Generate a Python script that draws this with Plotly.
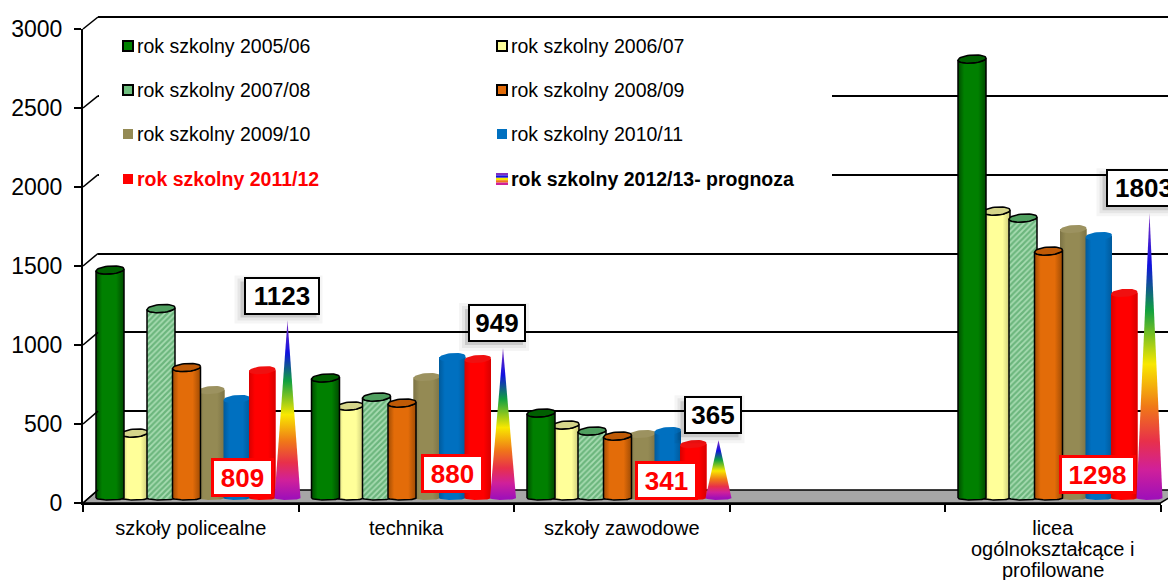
import numpy as np
import plotly.graph_objects as go

W, H = 1168, 580
categories = ["szkoły policealne", "technika", "szkoły zawodowe", " ", "licea"]
licea_extra_lines = ["ogólnokształcące i", "profilowane"]
y_ticks = [0, 500, 1000, 1500, 2000, 2500, 3000]

rok_0506 = [1443, 760, 538, None, 2778]
rok_0607 = [411, 582, 462, None, 1816]
rok_0708 = [1199, 639, 424, None, 1772]
rok_0809 = [826, 601, 392, None, 1563]
rok_0910 = [683, 766, 405, None, 1702]
rok_1011 = [627, 892, 424, None, 1658]
rok_1112 = [809, 880, 341, None, 1298]
rok_1213 = [1123, 949, 365, None, 1803]

names = ["rok szkolny 2005/06", "rok szkolny 2006/07", "rok szkolny 2007/08", "rok szkolny 2008/09",
         "rok szkolny 2009/10", "rok szkolny 2010/11", "rok szkolny 2011/12", "rok szkolny 2012/13- prognoza"]

# pixel geometry
PX_CAT = 215.5
PX_VAL = 0.158
FX0, FX1 = 83, 1160.5      # front axis
FY0, FY1 = 503, 29
BX0 = 98                   # back wall
BY0, BY1 = 490, 17
MX0, MY0 = 190.5, 498      # centre of category 0 / value 0 for the marks
BACK_SCALE = (BY0 - BY1) / 3000
BACK_TOP_PX = 5


def fx(p): return p / W
def fy(p): return 1 - p / H
def ux(p): return p / PX_CAT
def uy(p): return p / PX_VAL


styles = [
    dict(vals=rok_0506, name=names[0], i=0, w=28, base="#008000", edge="#004a00", top="#005f00", line=True),
    dict(vals=rok_0607, name=names[1], i=1, w=26.5, base="#FFFF99", edge="#c8c878", top="#d5d58a", line=True),
    dict(vals=rok_0708, name=names[2], i=2, w=28, base="#8fd49a", edge="#5a9a66", top="#4f9f5f", line=True, hatch=True),
    dict(vals=rok_0809, name=names[3], i=3, w=28, base="#E36C09", edge="#a04c04", top="#bf5a06", line=True),
    dict(vals=rok_0910, name=names[4], i=4, w=26.5, base="#948A54", edge="#7d7446", top="#9c9260", line=False),
    dict(vals=rok_1011, name=names[5], i=5, w=26.5, base="#0070C0", edge="#005a9c", top="#0070C0", line=False),
    dict(vals=rok_1112, name=names[6], i=6, w=26.5, base="#FF0000", edge="#d80000", top="#f01010", line=False),
]
draw_order = [1, 4, 5, 6, 2, 0, 3]
LEFT0 = 96 - MX0
STEP = 25.5

fig = go.Figure()
# back wall carries the gridlines
fig.add_trace(go.Scatter(x=[None], y=[None], xaxis="x", yaxis="y", showlegend=False, hoverinfo="skip"))
# front axes
fig.add_trace(go.Scatter(x=categories, y=[None] * 5, xaxis="x2", yaxis="y2", showlegend=False, hoverinfo="skip"))

for k in draw_order:
    s = styles[k]
    fig.add_trace(go.Bar(x=list(range(5)), y=s["vals"], name=s["name"], xaxis="x3", yaxis="y3",
                         offset=ux(LEFT0 + STEP * s["i"]), width=ux(s["w"]), marker=dict(color=s["base"], line=dict(width=0)),
                         showlegend=False))

t = np.linspace(0, np.pi, 25)
for k in draw_order:
    s = styles[k]
    for c, v in enumerate(s["vals"]):
        if v is None:
            continue
        x0 = c + ux(LEFT0 + STEP * s["i"])
        a = ux(s["w"]) / 2
        xc = x0 + a
        x_bot = xc - a * np.cos(t)
        y_bot = -uy(2) * np.sin(t)
        x_front = xc + a * np.cos(t)
        y_front = v - uy(4) * np.sin(t) + uy(1) * np.cos(t)
        px = np.concatenate([x_bot, x_front, x_bot[:1]])
        py = np.concatenate([y_bot, y_front, y_bot[:1]])
        line = dict(color="#000000", width=1.5) if s["line"] else dict(width=0)
        kw = dict(x=px, y=py, mode="lines", fill="toself", line=line, xaxis="x3", yaxis="y3",
                  showlegend=False, hoverinfo="skip")
        if s.get("hatch"):
            kw["fillpattern"] = dict(shape="/", fgcolor="#2f8f48", bgcolor="#a8dcb2", size=4, solidity=0.55)
        else:
            kw["fillgradient"] = dict(type="horizontal", start=x0, stop=x0 + 2 * a,
                                      colorscale=[[0, s["edge"]], [0.22, s["base"]], [0.72, s["base"]], [1, s["edge"]]])
        fig.add_trace(go.Scatter(**kw))
        tt = np.linspace(0, 2 * np.pi, 41)
        fig.add_trace(go.Scatter(x=xc + a * np.cos(tt), y=v + uy(4) * np.sin(tt) + uy(1) * np.cos(tt),
                                 mode="lines", fill="toself", fillcolor=s["top"], line=line,
                                 xaxis="x3", yaxis="y3", showlegend=False, hoverinfo="skip"))

# forecast cones
CONE_SCALE = [[0, "#a010b8"], [0.1, "#d0209a"], [0.2, "#e8304a"], [0.32, "#f07818"], [0.47, "#f8e800"],
              [0.66, "#10a040"], [0.82, "#1010e0"], [1, "#8030c0"]]
for c, v in enumerate(rok_1213):
    if v is None:
        continue
    xc = c + ux(LEFT0 + STEP * 7 + 13)
    a = ux(13)
    x_bot = xc - a * np.cos(t)
    y_bot = -uy(2) * np.sin(t)
    fig.add_trace(go.Scatter(x=np.concatenate([x_bot, [xc], x_bot[:1]]), y=np.concatenate([y_bot, [v], y_bot[:1]]),
                             mode="lines", fill="toself", line=dict(width=0), name=names[7],
                             fillgradient=dict(type="vertical", start=0, stop=v, colorscale=CONE_SCALE),
                             xaxis="x3", yaxis="y3", showlegend=False, hoverinfo="skip"))

shapes = []
# floor
shapes.append(dict(type="path", layer="below", xref="paper", yref="paper",
                   path=f"M{fx(FX0)},{fy(FY0)} L{fx(BX0)},{fy(BY0)} L{fx(W + 14)},{fy(BY0)} L{fx(FX1)},{fy(FY0)} Z",
                   fillcolor="#a6a6a6", line=dict(color="#000", width=1.5)))
# side wall diagonals
for v in y_ticks:
    yf = FY0 + (FY1 - FY0) * v / 3000
    yb = BY0 + (BY1 - BY0) * v / 3000
    shapes.append(dict(type="line", xref="paper", yref="paper", x0=fx(FX0), x1=fx(BX0), y0=fy(yf), y1=fy(yb),
                       line=dict(color="#000", width=1.6)))
# white panel behind the legend
shapes.append(dict(type="rect", layer="above", xref="paper", yref="paper", x0=fx(99), x1=fx(832), y0=fy(30), y1=fy(245),
                   fillcolor="#fff", line=dict(width=0)))

annotations = []
# legend
COLS = [122, 496]
ROWS = [46, 90, 134, 179]
legend_colors = ["#008000", "#FFFF99", "#6fbf7f", "#E36C09", "#948A54", "#0070C0", "#FF0000"]
for k, nm in enumerate(names):
    cx = COLS[k % 2]
    cy = ROWS[k // 2]
    if k < 7:
        lined = k < 4
        shapes.append(dict(type="rect", layer="above", xref="paper", yref="paper", x0=fx(cx + 1),
                           x1=fx(cx + 11), y0=fy(cy - 5), y1=fy(cy + 5), fillcolor=legend_colors[k],
                           line=dict(color="#000", width=2) if lined else dict(width=0)))
    else:
        bands = ["#8030c0", "#1010e0", "#f8e800", "#f07818", "#d0209a"]
        for b, col in enumerate(bands):
            shapes.append(dict(type="rect", layer="above", xref="paper", yref="paper", x0=fx(cx), x1=fx(cx + 12),
                               y0=fy(cy - 6 + b * 2.4), y1=fy(cy - 6 + (b + 1) * 2.4), fillcolor=col, line=dict(width=0)))
    bold = k >= 6
    color = "#FF0000" if k == 6 else "#000000"
    annotations.append(dict(xref="paper", yref="paper", x=fx(cx + 13), y=fy(cy), xanchor="left", yanchor="middle",
                            text=f"<b>{nm}</b>" if bold else nm, showarrow=False,
                            font=dict(size=19.5, color=color, family="Liberation Sans")))

# forecast value boxes
for c, v in enumerate(rok_1213):
    if v is None:
        continue
    xc = c + ux(LEFT0 + STEP * 7 + 13)
    w = 72 if v >= 1000 else 54
    for spread, alpha in [(0, 0.12), (3, 0.06), (6, 0.04)]:
        shapes.append(dict(type="rect", xref="x3", yref="y3", xsizemode="pixel", ysizemode="pixel",
                           xanchor=xc, yanchor=v, layer="above",
                           x0=-6 - w / 2 - 5 - spread, x1=-6 + w / 2 - 1 + spread,
                           y0=26 - 17 - 6 - spread, y1=26 + 17 - 4 + spread,
                           fillcolor=f"rgba(0,0,0,{alpha})", line=dict(width=0)))
    annotations.append(dict(xref="x3", yref="y3", x=xc, y=v, xshift=-6, yshift=25, text=f"<b>{v}</b>", showarrow=False,
                            width=w, height=34, bgcolor="#fff", bordercolor="#000", borderwidth=2, borderpad=0,
                            align="center", valign="middle",
                            font=dict(size=26, color="#000", family="Liberation Sans")))

# red value boxes
red_box_y = [477, 473, 480, None, 474]
red_box_dx = [-20, -25, -27, 0, -27]
for c, v in enumerate(rok_1112):
    if v is None:
        continue
    xc = c + ux(LEFT0 + STEP * 6 + 13)
    w = 71 if v >= 1000 else 57
    annotations.append(dict(xref="x3", yref="paper", x=xc, y=fy(red_box_y[c]), xshift=red_box_dx[c], yanchor="middle",
                            text=f"<b>{v}</b>", showarrow=False, width=w, height=33, bgcolor="#fff",
                            bordercolor="#FF0000", borderwidth=3, borderpad=0, align="center", valign="middle",
                            font=dict(size=26, color="#FF0000", family="Liberation Sans")))

# remaining lines of the last category label
for line_txt, ypx in zip(licea_extra_lines, [549, 570]):
    annotations.append(dict(xref="x2", yref="paper", x=categories[4], y=fy(ypx), yanchor="middle", showarrow=False,
                            text=line_txt, font=dict(size=20, color="#000", family="Liberation Sans")))

fig.update_layout(
    width=W, height=H, margin=dict(l=0, r=0, t=0, b=0, pad=0, autoexpand=False),
    paper_bgcolor="#fff", plot_bgcolor="rgba(0,0,0,0)", showlegend=False, barmode="overlay",
    font=dict(family="Liberation Sans", color="#000"),
    shapes=shapes, annotations=annotations,
    # back wall (range runs a little past 3000 so that its gridline is drawn)
    xaxis=dict(domain=[fx(BX0), 1], range=[0, 1], showgrid=False, showline=False, showticklabels=False, ticks="",
               zeroline=False, anchor="y"),
    yaxis=dict(domain=[fy(BY0), fy(BACK_TOP_PX)], range=[0, (BY0 - BACK_TOP_PX) / BACK_SCALE], tickvals=y_ticks,
               showgrid=True, gridcolor="#000", gridwidth=2, showline=False, showticklabels=False, ticks="",
               zeroline=False, anchor="x"),
    # front axes
    xaxis2=dict(domain=[fx(FX0), fx(FX1)], type="category", categoryorder="array", categoryarray=categories,
                range=[-0.5, 4.5], tickson="boundaries", ticks="outside", ticklen=7, tickwidth=1.5, tickcolor="#000",
                showline=True, linecolor="#000", linewidth=2, showgrid=False, zeroline=False, anchor="y2",
                tickfont=dict(size=20, color="#000"), ticklabelstandoff=6, tickangle=0),
    yaxis2=dict(domain=[fy(FY0), fy(FY1)], range=[0, 3000], tickvals=y_ticks, ticks="outside", ticklen=7, tickwidth=1.5,
                tickcolor="#000", showline=True, linecolor="#000", linewidth=2, showgrid=False, zeroline=False,
                anchor="x2", tickfont=dict(size=23, color="#000"), ticklabelstandoff=7),
    # marks: whole page, same scale
    xaxis3=dict(domain=[0, 1], range=[ux(-MX0), ux(W - MX0)], visible=False, anchor="y3"),
    yaxis3=dict(domain=[0, 1], range=[uy(MY0 - H), uy(MY0)], visible=False, anchor="x3"),
)

fig.write_html("out.html", config={"displayModeBar": False},
               post_script="document.body.style.margin='0';document.body.style.overflow='hidden';")
